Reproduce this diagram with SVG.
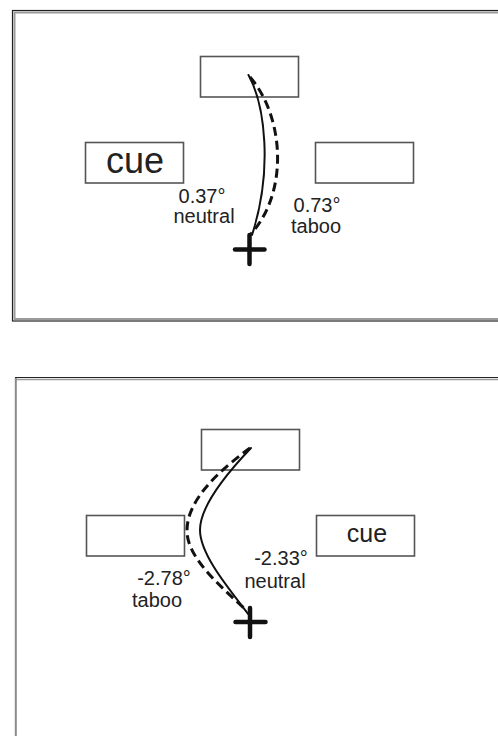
<svg xmlns="http://www.w3.org/2000/svg" width="498" height="736" viewBox="0 0 498 736">
  <style>
    .frame-outer { fill: none; stroke: #222; stroke-width: 1.2; }
    .frame-inner { fill: none; stroke: #9a9a9a; stroke-width: 2; }
    .box { fill: #fff; stroke: #555; stroke-width: 1.6; }
    .label { font-family: "Liberation Sans", Arial, sans-serif; fill: #222; text-anchor: middle; }
    .small { font-size: 20px; }
    .path-solid { fill: none; stroke: #111; stroke-width: 2; stroke-linecap: round; }
    .path-dashed { fill: none; stroke: #111; stroke-width: 3; stroke-dasharray: 9 5; }
    .cross { fill: none; stroke: #111; stroke-width: 4.5; stroke-linecap: round; }
  </style>

  <rect width="498" height="736" fill="#fff"/>

  <!-- upper panel frame -->
  <g id="panel-top-frame">
    <rect class="frame-outer" x="12.5" y="10.5" width="500" height="310.5"/>
    <rect class="frame-inner" x="14.5" y="12.5" width="500" height="306.5"/>
  </g>

  <!-- lower panel frame (open at the bottom) -->
  <g id="panel-bottom-frame">
    <line x1="15" y1="377.5" x2="498" y2="377.5" stroke="#222" stroke-width="1.2"/>
    <line x1="16" y1="379.5" x2="498" y2="379.5" stroke="#9a9a9a" stroke-width="1.6"/>
    <line x1="15.8" y1="378" x2="15.8" y2="736" stroke="#8a8a8a" stroke-width="2"/>
  </g>

  <!-- upper panel -->
  <g id="top-target-up"><rect class="box" x="200.5" y="56.5" width="98" height="40.5"/></g>
  <g id="top-cue-left">
    <rect class="box" x="85.5" y="142.5" width="98" height="40.5"/>
    <text class="label" x="135" y="173" font-size="36">cue</text>
  </g>
  <g id="top-target-right"><rect class="box" x="315.5" y="142.5" width="98" height="40.5"/></g>
  <g id="top-label-neutral">
    <text class="label small" x="202" y="203">0.37°</text>
    <text class="label small" x="204" y="223">neutral</text>
  </g>
  <g id="top-label-taboo">
    <text class="label small" x="317" y="212">0.73°</text>
    <text class="label small" x="316" y="233">taboo</text>
  </g>
  <g id="top-fixation">
    <line class="cross" x1="249.5" y1="235" x2="249.5" y2="264"/>
    <line class="cross" x1="235" y1="249.5" x2="264.5" y2="249.5"/>
  </g>

  <!-- lower panel -->
  <g id="bottom-target-up"><rect class="box" x="201.5" y="429.5" width="98" height="40.5"/></g>
  <g id="bottom-target-left"><rect class="box" x="86.5" y="515.5" width="98" height="40.5"/></g>
  <g id="bottom-cue-right">
    <rect class="box" x="316.5" y="515.5" width="98" height="40.5"/>
    <text class="label" x="367" y="542" font-size="25">cue</text>
  </g>
  <g id="bottom-label-neutral">
    <text class="label small" x="281" y="565">-2.33°</text>
    <text class="label small" x="275" y="588">neutral</text>
  </g>
  <g id="bottom-label-taboo">
    <text class="label small" x="164" y="585">-2.78°</text>
    <text class="label small" x="157" y="607">taboo</text>
  </g>
  <g id="bottom-fixation">
    <line class="cross" x1="250" y1="608" x2="250" y2="637"/>
    <line class="cross" x1="235.5" y1="622" x2="265.5" y2="622"/>
  </g>

  <!-- saccade trajectories -->
  <g id="connectors">
    <path class="path-solid" d="M248.5,75 C265,105 273,170 252,235"/>
    <path class="path-dashed" d="M250,77 C283,115 290,190 251,234"/>
    <path class="path-solid" d="M251,448 C230,470 200,505 200,530 C200,555 230,590 249,615"/>
    <path class="path-dashed" d="M250,448 C220,470 186,500 187,532 C188,560 225,590 246,610"/>
  </g>
</svg>
